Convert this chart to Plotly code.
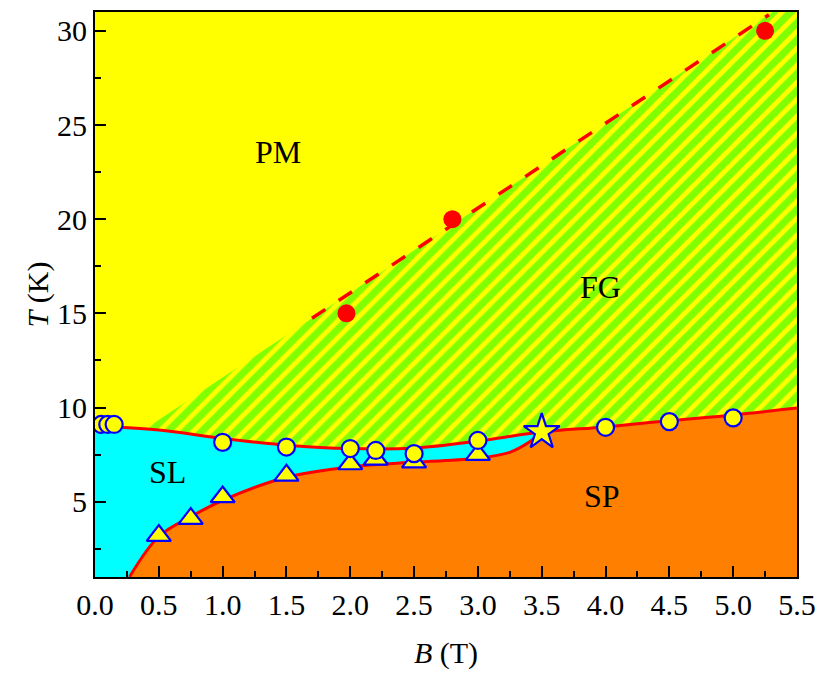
import plotly.graph_objects as go

# ---- data ----
# upper boundary (SL/FG and SP/FG)
upper_B = [0.0, 0.5, 1.0, 1.5, 2.0, 2.5, 3.0, 3.5, 4.0, 4.5, 5.0, 5.5]
upper_T = [9.0, 8.8, 8.35, 8.0, 7.82, 7.85, 8.22, 8.7, 8.97, 9.3, 9.6, 9.97]
# lower boundary (SL/SP) up to the star
lower_B = [0.27, 0.5, 0.75, 1.0, 1.5, 2.0, 2.5, 3.0, 3.25, 3.4, 3.5]
lower_T = [1.0, 3.15, 4.2, 5.07, 6.3, 6.85, 7.1, 7.3, 7.62, 8.15, 8.7]
sp_B = lower_B + upper_B[8:]
sp_T = lower_T + upper_T[8:]
# PM / FG crossover line
fg_B = [0.0, 5.31, 5.5]
fg_T = [7.09, 31.0, 31.0]
dash_B = [1.7, 5.28]
dash_T = [14.74, 30.85]

circ_B = [0.05, 0.1, 0.15, 1.0, 1.5, 2.0, 2.2, 2.5, 3.0, 4.0, 4.5, 5.0]
circ_T = [9.1, 9.1, 9.1, 8.15, 7.9, 7.82, 7.72, 7.55, 8.25, 8.95, 9.25, 9.45]
tri_B = [0.5, 0.75, 1.0, 1.5, 2.0, 2.2, 2.5, 3.0]
tri_T = [3.2, 4.1, 5.25, 6.4, 7.0, 7.25, 7.1, 7.5]
star_B = [3.5]
star_T = [8.7]
red_B = [1.97, 2.8, 5.25]
red_T = [15.0, 20.0, 30.0]

labels = ["PM", "FG", "SL", "SP"]
label_B = [1.43, 3.96, 0.57, 3.97]
label_T = [23.55, 16.4, 6.6, 5.3]

YELLOW = "#FFFF00"
CYAN = "#00FFFF"
ORANGE = "#FF8000"
GREEN = "#00FF00"
RED = "#FF0000"
BLUE = "#0000FF"
FONT = "Liberation Serif, Times New Roman, serif"

fig = go.Figure()

# hatched FG region (covered later by SL and SP)
fig.add_trace(go.Scatter(x=fg_B, y=fg_T, mode="lines", line=dict(width=0),
                         fill="tozeroy", fillcolor=YELLOW,
                         fillpattern=dict(shape="/", fgcolor=GREEN, bgcolor=YELLOW,
                                          size=12, solidity=0.6),
                         hoverinfo="skip"))
# SL region
fig.add_trace(go.Scatter(x=upper_B, y=upper_T, mode="lines", line=dict(width=0, shape="spline"),
                         fill="tozeroy", fillcolor=CYAN, hoverinfo="skip"))
# SP region
fig.add_trace(go.Scatter(x=sp_B, y=sp_T, mode="lines", line=dict(width=0, shape="spline"),
                         fill="tozeroy", fillcolor=ORANGE, hoverinfo="skip"))
# boundary lines
fig.add_trace(go.Scatter(x=upper_B, y=upper_T, mode="lines",
                         line=dict(color=RED, width=3, shape="spline"), hoverinfo="skip"))
fig.add_trace(go.Scatter(x=lower_B, y=lower_T, mode="lines",
                         line=dict(color=RED, width=3, shape="spline"), hoverinfo="skip"))
fig.add_trace(go.Scatter(x=dash_B, y=dash_T, mode="lines",
                         line=dict(color=RED, width=3.5, dash="16px,16px"), hoverinfo="skip"))

# markers
fig.add_trace(go.Scatter(x=tri_B, y=tri_T, mode="markers",
                         marker=dict(symbol="triangle-up", size=21, color=YELLOW,
                                     line=dict(color=BLUE, width=2.2))))
fig.add_trace(go.Scatter(x=circ_B, y=circ_T, mode="markers",
                         marker=dict(symbol="circle", size=17, color=YELLOW,
                                     line=dict(color=BLUE, width=2.2))))
fig.add_trace(go.Scatter(x=star_B, y=star_T, mode="markers",
                         marker=dict(symbol="star", size=27, color=YELLOW,
                                     line=dict(color=BLUE, width=2.2))))
fig.add_trace(go.Scatter(x=red_B, y=red_T, mode="markers",
                         marker=dict(symbol="circle", size=18, color=RED)))

for txt, bx, ty in zip(labels, label_B, label_T):
    fig.add_annotation(x=bx, y=ty, text=txt, showarrow=False,
                       font=dict(family=FONT, size=32, color="black"))

axis_common = dict(showgrid=False, zeroline=False, showline=True, linecolor="black",
                   linewidth=2, mirror=True, ticks="inside", ticklen=11, tickwidth=2,
                   tickcolor="black", automargin=False,
                   tickfont=dict(family=FONT, size=30, color="black"))

fig.update_xaxes(range=[0, 5.5], dtick=0.5, tick0=0, tickformat=".1f",
                 minor=dict(ticks="inside", ticklen=6, dtick=0.25, tickwidth=2, tickcolor="black"),
                 title=dict(text="<i>B</i> (T)", font=dict(family=FONT, size=30, color="black"),
                            standoff=22),
                 **axis_common)
fig.update_yaxes(range=[1, 31], dtick=5, tick0=0,
                 minor=dict(ticks="inside", ticklen=6, dtick=2.5, tickwidth=2, tickcolor="black"),
                 title=dict(text="<i>T</i> (K)", font=dict(family=FONT, size=30, color="black"),
                            standoff=0),
                 **axis_common)

fig.update_layout(width=819, height=673, showlegend=False,
                  plot_bgcolor=YELLOW, paper_bgcolor="white",
                  margin=dict(l=95, r=22, t=12, b=96))

fig.write_html("out.html")
